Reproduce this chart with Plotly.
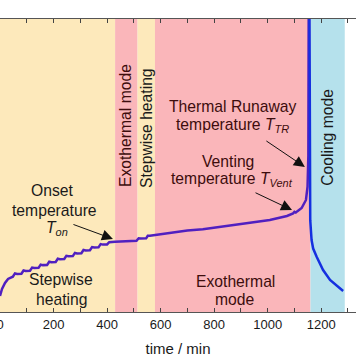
import plotly.graph_objects as go

# ---- data ----
heat_time = [0, 7.5, 18.7, 30, 48,
             56, 64, 80, 88, 96, 112, 120, 128, 144, 152, 160, 176,
             184, 192, 208, 216, 224, 240, 248, 256, 272, 280, 288, 304,
             312, 320, 336, 344, 352, 368, 376, 384, 400, 408, 416, 430,
             470, 510, 518, 526, 546, 552, 560, 578,
             600, 635, 700, 758, 880, 1008, 1072, 1095, 1100, 1105, 1110,
             1127, 1143, 1149, 1152, 1153, 1154]
heat_temp = [16.4, 23.6, 29.7, 33.8, 36.1,
             39.5, 39, 39.2, 42.5, 42, 42.2, 45.5, 45, 45.2, 48.5, 48, 48.2,
             51.5, 51, 51.2, 54.5, 54, 54.2, 57.5, 57, 57.2, 60.5, 60, 60.2,
             63.5, 63, 63.2, 66.5, 66, 66.2, 69.5, 69, 69.2, 71.5, 71.5, 72,
             72.4, 72.9, 75.5, 75.2, 75.4, 78, 78, 78.8,
             79.8, 81.2, 83.5, 84.7, 89.1, 94.2, 98.3, 101, 102.5, 101.8, 103,
             106.5, 114.7, 128.3, 160, 250, 400]

cool_time = [1155, 1157, 1158, 1159, 1164, 1170, 1183, 1207, 1233, 1258, 1282]
cool_temp = [400, 250, 150, 94, 73.7, 65, 56.6, 43, 32.8, 26.6, 21.5]

# mode bands: (start, end, kind)
band_start = [0, 430, 514, 579, 1160]
band_end = [430, 514, 579, 1160, 1288]
band_kind = ["heat", "exo", "heat", "exo", "cool"]
band_colour = {"heat": "#fde9bb", "exo": "#fab6ba", "cool": "#b5e1ec"}

x_tick_vals = [0, 200, 400, 600, 800, 1000, 1200]

fig = go.Figure()
fig.add_trace(go.Scatter(x=heat_time, y=heat_temp, mode="lines",
                         line=dict(color="#5020c0", width=2.5), showlegend=False))
fig.add_trace(go.Scatter(x=cool_time, y=cool_temp, mode="lines",
                         line=dict(color="#1530e0", width=2.5), showlegend=False))

for s, e, k in zip(band_start, band_end, band_kind):
    fig.add_shape(type="rect", xref="x", yref="paper", x0=s, x1=e, y0=0, y1=1,
                  fillcolor=band_colour[k], line=dict(width=0), layer="below")

FONT = "Liberation Sans, Arial, sans-serif"
dark = "#1a1a1a"
maroon = "#3d0d0d"
FS = 15.7

def txt(x, y, s, color=dark, angle=0, size=FS):
    fig.add_annotation(x=x, y=y, xref="x", yref="y", text=s, showarrow=False,
                       textangle=angle, font=dict(family=FONT, size=size, color=color))

txt(194, 123.9, "Onset")
txt(205, 104.4, "temperature")
txt(213, 85, "<i>T</i><sub><i>on</i></sub>")
txt(228, 32.8, "Stepwise")
txt(228, 13.3, "heating")
txt(471, 190.5, "Exothermal mode", color=maroon, angle=-90)
txt(545, 188.4, "Stepwise heating", angle=-90)
txt(870, 210, "Thermal Runaway", color=maroon)
txt(870, 190.5, "temperature <i>T</i><sub><i>TR</i></sub>", color=maroon)
txt(852, 153.6, "Venting", color=maroon)
txt(867, 135.2, "temperature <i>T</i><sub><i>Vent</i></sub>", color=maroon)
txt(878, 31.7, "Exothermal", color=maroon)
txt(878, 13.3, "mode", color=maroon)
txt(1225, 179.2, "Cooling mode", angle=-90)

def arrow(x, y, ax, ay):
    fig.add_annotation(x=x, y=y, xref="x", yref="y", ax=ax, ay=ay, text="",
                       showarrow=True, arrowhead=2, arrowsize=2.2, arrowwidth=1,
                       arrowcolor="#111111")

arrow(422, 74.8, -41, -15)
arrow(1139, 148.5, -40, -27)
arrow(1091, 104.4, -38, -18)

fig.update_layout(
    width=356, height=364,
    margin=dict(l=0, r=0, t=19, b=52, autoexpand=False),
    paper_bgcolor="white", plot_bgcolor="white",
    font=dict(family=FONT, color=dark),
    xaxis=dict(range=[0, 1330], tickvals=x_tick_vals, ticks="inside", ticklen=4,
               tickcolor="#444", showline=True, linecolor="#555", linewidth=1,
               mirror="ticks", showgrid=False, zeroline=False, automargin=False,
               ticklabeloverflow="allow",
               tickfont=dict(size=13, family=FONT, color=dark),
               minor=dict(dtick=100, ticks="inside", ticklen=4, tickcolor="#444"),
               title=dict(text="time / min", font=dict(size=15, family=FONT, color=dark),
                          standoff=12)),
    yaxis=dict(range=[0, 300], visible=False, showgrid=False, zeroline=False,
               automargin=False),
)

fig.write_html("out.html", config={"displayModeBar": False},
               post_script="document.body.style.margin='0';document.body.style.padding='0';")
